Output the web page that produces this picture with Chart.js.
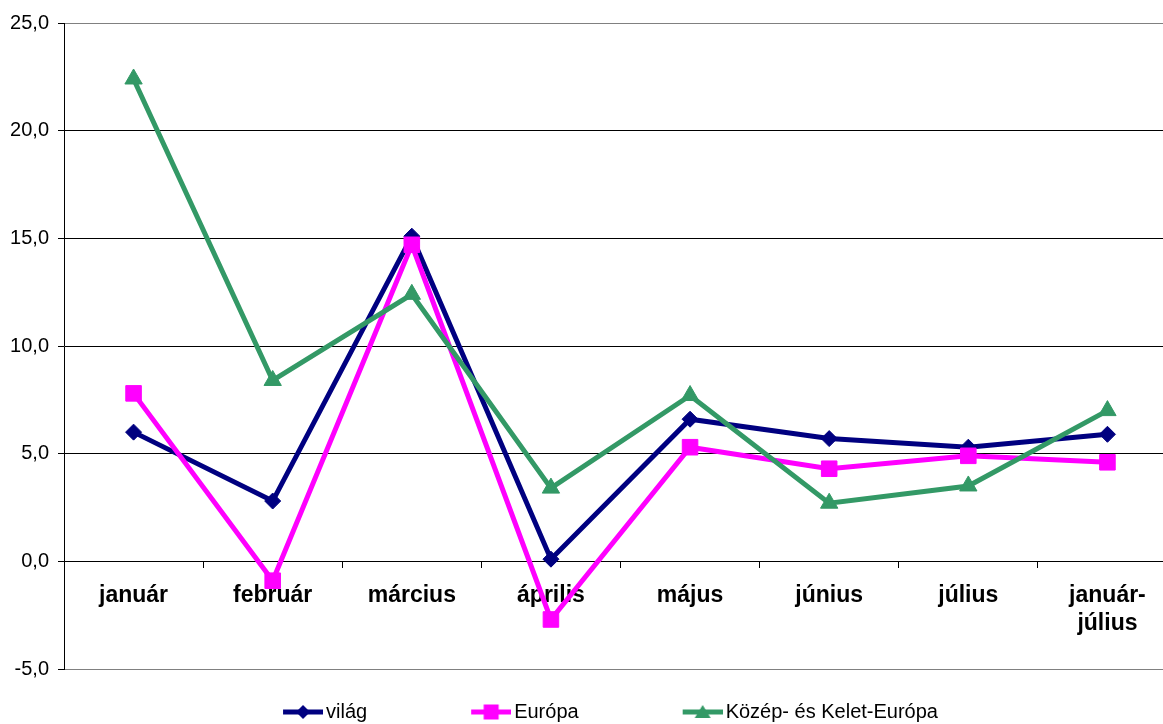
<!DOCTYPE html>
<html>
<head>
<meta charset="utf-8">
<script src="https://cdn.jsdelivr.net/npm/chart.js@4/dist/chart.umd.min.js"></script>
<style>
  html, body { margin: 0; padding: 0; background: #fff; overflow: hidden; }
  #myChart { display: block; width: 1177px; height: 732px; }
</style>
</head>
<body>
<canvas id="myChart" width="1177" height="732"></canvas>
<script>
// data
let months = ['január', 'február', 'március', 'április', 'május', 'június', 'július', ['január-', 'július']];
let vilag = [6.0, 2.8, 15.1, 0.1, 6.6, 5.7, 5.3, 5.9];
let europa = [7.8, -0.9, 14.7, -2.7, 5.3, 4.3, 4.9, 4.6];
let kke = [22.4, 8.4, 12.4, 3.4, 7.7, 2.7, 3.5, 7.0];
let seriesNames = ['világ', 'Európa', 'Közép- és Kelet-Európa'];
let yTicks = [-5, 0, 5, 10, 15, 20, 25];

Chart.defaults.font.family = "'Liberation Sans', Arial, sans-serif";
Chart.defaults.color = '#000';

const legendBox = 104;

// small picture for a legend entry: a line with the marker in the middle
function legendIcon(color, style) {
    let c = document.createElement('canvas');
    c.width = legendBox + 14;
    c.height = 20;
    let ctx = c.getContext('2d');
    let x0 = c.width - 40, cx = c.width - 20, cy = 10;
    ctx.strokeStyle = color;
    ctx.fillStyle = color;
    ctx.lineWidth = 5;
    ctx.beginPath();
    ctx.moveTo(x0, cy);
    ctx.lineTo(c.width, cy);
    ctx.stroke();
    ctx.beginPath();
    if (style === 'diamond') {
        ctx.moveTo(cx, cy - 7); ctx.lineTo(cx + 7, cy); ctx.lineTo(cx, cy + 7); ctx.lineTo(cx - 7, cy);
    } else if (style === 'square') {
        ctx.rect(cx - 7.5, cy - 7.5, 15, 15);
    } else {
        ctx.moveTo(cx, cy - 7); ctx.lineTo(cx + 8, cy + 6); ctx.lineTo(cx - 8, cy + 6);
    }
    ctx.closePath();
    ctx.fill();
    return c;
}

let colors = ['#000080', '#FF00FF', '#339966'];
let icons = [legendIcon(colors[0], 'diamond'), legendIcon(colors[1], 'square'), legendIcon(colors[2], 'triangle')];

let myChart = new Chart(document.getElementById('myChart'), {
    type: 'line',
    data: {
        labels: months,
        datasets: [{
            label: seriesNames[0],
            data: vilag,
            borderColor: colors[0],
            backgroundColor: colors[0],
            borderWidth: 5,
            pointStyle: 'rectRot',
            pointRadius: 8,
            pointHoverRadius: 8,
            pointBorderWidth: 1,
            order: 3
        }, {
            label: seriesNames[1],
            data: europa,
            borderColor: colors[1],
            backgroundColor: colors[1],
            borderWidth: 5,
            pointStyle: 'rect',
            pointRadius: 11,
            pointHoverRadius: 11,
            pointBorderWidth: 1,
            order: 2
        }, {
            label: seriesNames[2],
            data: kke,
            borderColor: colors[2],
            backgroundColor: colors[2],
            borderWidth: 5,
            pointStyle: 'triangle',
            pointRadius: 10,
            pointHoverRadius: 10,
            pointBorderWidth: 1,
            order: 1
        }]
    },
    options: {
        responsive: false,
        animation: false,
        devicePixelRatio: 1,
        layout: {
            autoPadding: false,
            padding: { top: 23, left: -27, right: 0, bottom: 0 }
        },
        plugins: {
            tooltip: { enabled: false },
            legend: {
                position: 'bottom',
                align: 'center',
                labels: {
                    usePointStyle: true,
                    pointStyleWidth: legendBox,
                    padding: 33,
                    color: '#000',
                    font: { size: 20 },
                    generateLabels: function(chart) {
                        return chart.data.datasets.map(function(ds, i) {
                            return {
                                text: ds.label,
                                pointStyle: icons[i],
                                fillStyle: ds.borderColor,
                                strokeStyle: ds.borderColor,
                                lineWidth: 0,
                                fontColor: '#000',
                                hidden: false,
                                datasetIndex: i
                            };
                        });
                    }
                }
            }
        },
        scales: {
            x: {
                position: { y: 0 },
                offset: true,
                afterFit: function(scale) {
                    scale.height = 0;
                    scale.paddingLeft = 0;
                    scale.paddingRight = 0;
                },
                grid: {
                    offset: true,
                    drawOnChartArea: false,
                    drawTicks: true,
                    tickLength: 6,
                    color: '#000'
                },
                border: { display: true, color: '#000', width: 1 },
                ticks: {
                    padding: 14,
                    maxRotation: 0,
                    autoSkip: false,
                    color: '#000',
                    font: { size: 23, weight: 'bold', lineHeight: 1.22 }
                }
            },
            y: {
                min: yTicks[0],
                max: yTicks[yTicks.length - 1],
                afterFit: function(scale) { scale.width = 91; },
                afterBuildTicks: function(scale) {
                    scale.ticks = yTicks.map(function(v) { return { value: v }; });
                },
                grid: {
                    color: function(ctx) {
                        if (ctx.tick && (ctx.tick.value === 25 || ctx.tick.value === -5)) return '#808080';
                        return '#000';
                    },
                    tickColor: '#000',
                    tickLength: 6
                },
                border: { display: true, color: '#000', width: 1 },
                ticks: {
                    padding: 9,
                    color: '#000',
                    font: { size: 20 },
                    callback: function(value) {
                        return value.toFixed(1).replace('.', ',');
                    }
                }
            }
        }
    }
});
</script>
</body>
</html>
